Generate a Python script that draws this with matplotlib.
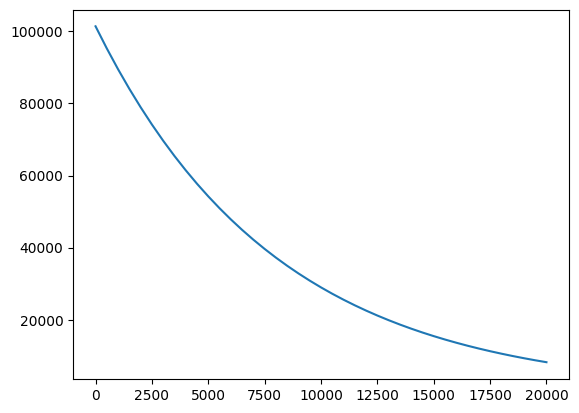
import matplotlib
matplotlib.use("Agg")
import matplotlib.pyplot as plt

altitude = [0, 500, 1000, 1500, 2000, 2500, 3000, 3500, 4000, 4500, 5000, 5500,
            6000, 6500, 7000, 7500, 8000, 8500, 9000, 9500, 10000, 10500,
            11000, 11500, 12000, 12500, 13000, 13500, 14000, 14500, 15000, 15500,
            16000, 16500, 17000, 17500, 18000, 18500, 19000, 19500, 20000]
pressure = [101325, 95186, 89420, 84001, 78912, 74130, 69640, 65420, 61457, 57733,
            54236, 50949, 47863, 44962, 42239, 39680, 37276, 35017, 32896, 30903,
            29031, 27271, 25620, 24067, 22609, 21239, 19953, 18743, 17608, 16540,
            15539, 14597, 13713, 12881, 12102, 11368, 10680, 10032, 9425, 8853, 8318]

fig = plt.figure(figsize=(5.79, 4.13), dpi=100)
ax = fig.add_axes([73/579, 1-379/413, 496/579, 369.5/413])
ax.plot(altitude, pressure)
fig.savefig("out.png", dpi=100)
